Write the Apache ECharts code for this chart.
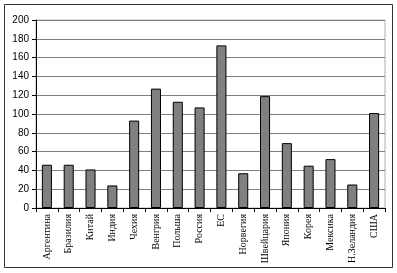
<!DOCTYPE html>
<html><head><meta charset="utf-8">
<script src="https://cdn.jsdelivr.net/npm/echarts@6/dist/echarts.min.js"></script>
<style>html,body{margin:0;padding:0;background:#fff}#c{width:397px;height:273px}</style>
</head><body><div id="c"></div>
<script>
const categories = ['Аргентина','Бразилия','Китай','Индия','Чехия','Венгрия','Польша','Россия','ЕС','Норвегия','Швейцария','Япония','Корея','Мексика','Н.Зеландия','США'];
const values = [46,46,41,24,93,127,113,107,173,37,119,69,45,52,25,101];
const yTicks = {min:0,max:200,interval:20};
const chart = echarts.init(document.getElementById('c'));
chart.setOption({
  animation:false,
  graphic:[{type:'rect',shape:{x:4.5,y:4.5,width:388,height:263},style:{fill:'none',stroke:'#333',lineWidth:1},z:-1}],
  grid:{left:36,right:12,top:20,bottom:65,show:true,borderColor:'#b0b0b0',borderWidth:1},
  xAxis:{type:'category',data:categories,
    axisLine:{lineStyle:{color:'#000'}},
    axisTick:{show:true,length:4,lineStyle:{color:'#000'}},
    axisLabel:{rotate:90,fontFamily:'Liberation Serif',fontSize:10,color:'#000',margin:6,interval:0}},
  yAxis:{type:'value',min:yTicks.min,max:yTicks.max,interval:yTicks.interval,
    axisLine:{show:true,lineStyle:{color:'#000'}},
    axisTick:{show:true,length:4,lineStyle:{color:'#000'}},
    axisLabel:{fontFamily:'Liberation Sans',fontSize:10,color:'#000',margin:7},
    splitLine:{lineStyle:{color:'#808080',width:1}}},
  series:[{type:'bar',data:values,barWidth:'46%',
    itemStyle:{color:'#808080',borderColor:'#000',borderWidth:1}}]
});
</script></body></html>
